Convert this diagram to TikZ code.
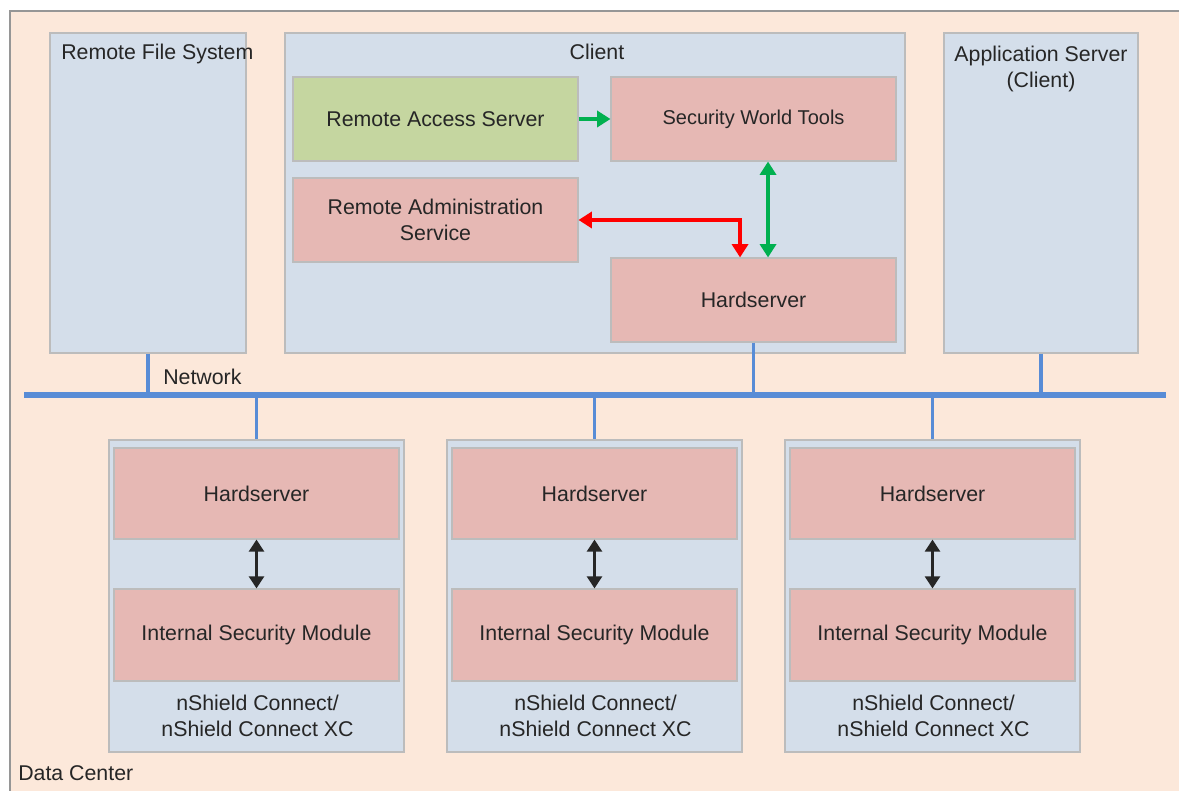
\documentclass[tikz,border=0pt]{standalone}
\usepackage{fontspec}
\setmainfont{Liberation Sans}
\usetikzlibrary{arrows.meta}
\definecolor{bgpeach}{RGB}{252,232,218}
\definecolor{boxblue}{RGB}{212,222,234}
\definecolor{boxpink}{RGB}{230,184,180}
\definecolor{boxgreen}{RGB}{197,214,160}
\definecolor{edgegray}{RGB}{188,188,188}
\definecolor{outergray}{RGB}{150,150,150}
\definecolor{netblue}{RGB}{88,140,214}
\definecolor{arrgreen}{RGB}{0,176,80}
\definecolor{arrred}{RGB}{255,0,0}
\definecolor{txt}{RGB}{38,38,38}
\begin{document}
\begin{tikzpicture}[x=0.75pt,y=-0.75pt,
  every node/.style={font=\fontsize{16pt}{19.5pt}\selectfont, text=txt},
  base/.style={draw=edgegray, line width=0.8pt, inner sep=0pt, align=center},
  bluebox/.style={base, fill=boxblue},
  pinkbox/.style={base, fill=boxpink},
  greenbox/.style={base, fill=boxgreen},
  wide/.style={minimum width=213.75pt},
  tall/.style={minimum height=63pt},
  plain/.style={inner sep=0pt, align=center},
  netbus/.style={draw=netblue, line width=4.8pt},
  netlink/.style={draw=netblue, line width=2.6pt},
  garrow/.style={draw=arrgreen, line width=2.8pt, -{Triangle[length=10pt,width=12pt]}},
  gdarrow/.style={draw=arrgreen, line width=2.8pt, {Triangle[length=10pt,width=12pt]}-{Triangle[length=10pt,width=12pt]}},
  rdarrow/.style={draw=arrred, line width=2.8pt, {Triangle[length=10pt,width=12pt]}-{Triangle[length=10pt,width=12pt]}},
  bdarrow/.style={draw=black!85, line width=2.8pt, {Triangle[length=9pt,width=11pt]}-{Triangle[length=9pt,width=11pt]}}
]
\useasboundingbox (0,0) rectangle (1179,791);
\fill[white] (0,0) rectangle (1179,791);
% Data center
\draw[draw=outergray, fill=bgpeach, line width=1pt] (10,11) rectangle (1200,820);
\node[plain, anchor=base west] (dc) at (18,780) {Data Center};

% Remote file system
\node[bluebox, minimum width=147pt, minimum height=240pt] (rfs) at (148,193) {};
\node[plain, anchor=base west] (rfst) at (61,60) {Remote File System};

% Client
\node[bluebox, minimum width=465pt, minimum height=240pt] (client) at (595,193) {};
\node[plain, anchor=base] (clientt) at (597,60) {Client};
\node[greenbox, wide, tall] (ras) at (435.5,119) {Remote Access Server};
\node[pinkbox, wide, tall, font=\fontsize{15pt}{18pt}\selectfont] (swt) at (753.5,119) {Security World Tools};
\node[pinkbox, wide, tall] (rads) at (435.5,220) {Remote Administration\\Service};
\node[pinkbox, wide, tall] (hsc) at (753.5,300) {Hardserver};

% Application server
\node[bluebox, minimum width=145.5pt, minimum height=240pt] (app) at (1041,193) {};
\node[plain] (appt) at (1041,68.5) {Application Server\\(Client)};

% client arrows
\draw[garrow] (ras.east) -- (swt.west);
\draw[gdarrow] ([xshift=10.9pt]swt.south) -- ([xshift=10.9pt]hsc.north);
\draw[rdarrow] (rads.east) -| ([xshift=-10.1pt]hsc.north);

% Network
\coordinate (busL) at (24,395);
\coordinate (busR) at (1166,395);
\node[plain, anchor=base west] (nett) at (163,385) {Network};
\draw[netlink] (rfs.south) -- (rfs.south |- busL);
\draw[netlink] (hsc.south) -- (hsc.south |- busL);
\draw[netlink] (app.south) -- (app.south |- busL);

% nShield units
\foreach \i/\x in {1/256.5, 2/594.5, 3/932.5} {
  \node[bluebox, minimum width=221.25pt, minimum height=234pt] (d\i) at (\x,596) {};
  \node[pinkbox, wide, minimum height=68.25pt] (h\i) at (\x,493.5) {Hardserver};
  \node[pinkbox, wide, minimum height=69pt] (m\i) at (\x,635) {Internal Security Module};
  \node[plain] (n\i) at (\x+1,716) {nShield Connect/\\nShield Connect XC};
  \draw[netlink] (d\i.north |- busL) -- (d\i.north);
  \draw[bdarrow] (h\i.south) -- (m\i.north);
}
\draw[netbus] (busL) -- (busR);
\end{tikzpicture}
\end{document}
